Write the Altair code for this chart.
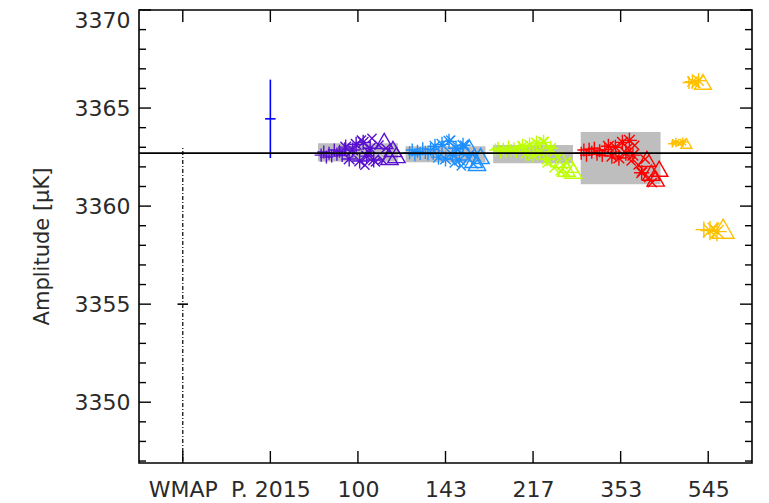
import json
import altair as alt
import pandas as pd

# ---------------- data ----------------
cat_labels = ["WMAP", "P. 2015", "100", "143", "217", "353", "545"]
cat_pos = [0, 1, 2, 3, 4, 5, 6]

y_major = [3350, 3355, 3360, 3365, 3370]
y_minor = [3347, 3348, 3349, 3351, 3352, 3353, 3354, 3356, 3357, 3358, 3359,
           3361, 3362, 3363, 3364, 3366, 3367, 3368, 3369]

dipole_ref = 3362.7

wmap_val, wmap_err = 3355.0, 8.0
p15_val, p15_err = 3364.45, 2.0

box_pos = [2, 3, 4, 5]
box_lo = [3362.28, 3362.23, 3362.18, 3361.12]
box_hi = [3363.20, 3363.05, 3363.11, 3363.78]

b100_off = [-0.42, -0.39, -0.36, -0.33, -0.30, -0.27, -0.24, -0.21, -0.18, -0.15,
            -0.14, -0.10, -0.06, -0.02, 0.02, 0.06, 0.10, 0.14, 0.18,
            0.04, 0.08, 0.12, 0.16, 0.20, 0.24, 0.28, 0.32,
            0.30, 0.36, 0.40, 0.44]
b100_val = [3362.60, 3362.76, 3362.50, 3362.70, 3362.55, 3362.86, 3362.65, 3362.80, 3362.58, 3362.92,
            3363.01, 3362.40, 3362.86, 3363.15, 3362.30, 3363.25, 3362.55, 3362.95, 3362.35,
            3363.37, 3362.09, 3362.76, 3363.45, 3362.25, 3363.11, 3362.35, 3362.95,
            3363.27, 3362.45, 3362.86, 3362.55]
b100_sym = ["plus"] * 10 + ["star"] * 9 + ["x"] * 8 + ["tri"] * 4

b143_off = [-0.41, -0.38, -0.35, -0.32, -0.29, -0.26, -0.23, -0.20, -0.17, -0.14,
            -0.12, -0.08, -0.04, 0.00, 0.04, 0.08, 0.12, 0.16, 0.20,
            0.06, 0.10, 0.14, 0.18, 0.22, 0.26, 0.29, 0.32,
            0.27, 0.32, 0.36, 0.40]
b143_val = [3362.72, 3362.86, 3362.62, 3362.80, 3362.68, 3362.92, 3362.74, 3362.66, 3362.88, 3362.70,
            3363.05, 3362.50, 3363.15, 3362.40, 3363.30, 3362.60, 3362.95, 3362.35, 3363.10,
            3363.37, 3362.20, 3362.90, 3362.05, 3363.10, 3362.45, 3362.70, 3362.15,
            3362.95, 3362.30, 3362.15, 3362.50]
b143_sym = b100_sym

b217_off = [-0.43, -0.40, -0.37, -0.34, -0.31, -0.28, -0.25, -0.22, -0.19, -0.16,
            -0.12, -0.08, -0.04, 0.00, 0.04, 0.08, 0.12, 0.16, 0.20,
            0.12, 0.16, 0.20, 0.24, 0.28, 0.31, 0.34, 0.38,
            0.33, 0.38, 0.42, 0.46]
b217_val = [3362.86, 3362.95, 3362.76, 3362.90, 3362.80, 3363.01, 3362.84, 3362.92, 3362.78, 3362.98,
            3363.05, 3362.70, 3363.11, 3362.60, 3363.21, 3362.75, 3363.25, 3362.40, 3362.95,
            3363.30, 3362.20, 3362.85, 3361.95, 3362.55, 3361.80, 3362.10, 3361.70,
            3362.30, 3361.85, 3362.05, 3361.75]
b217_sym = b100_sym

b353_off = [-0.45, -0.42, -0.39, -0.36, -0.33, -0.30, -0.27, -0.24, -0.21, -0.18,
            -0.14, -0.10, -0.06, -0.02, 0.02, 0.06, 0.10, 0.14, 0.24,
            0.08, 0.12, 0.16, 0.20, 0.24, 0.28, 0.32, 0.36,
            0.30, 0.35, 0.40, 0.44]
b353_val = [3362.70, 3362.86, 3362.60, 3362.90, 3362.75, 3362.95, 3362.65, 3362.82, 3362.58, 3362.88,
            3363.05, 3362.55, 3363.00, 3362.45, 3363.25, 3362.70, 3363.35, 3362.60, 3361.70,
            3362.95, 3362.30, 3363.10, 3362.10, 3361.75, 3362.40, 3361.45, 3361.20,
            3362.35, 3361.65, 3361.35, 3361.85]
b353_sym = b100_sym

b545_off = [-0.41, -0.37, -0.33, -0.29, -0.25,
            -0.22, -0.18, -0.14, -0.11, -0.06,
            -0.05, 0.02, 0.06, 0.10, 0.17]
b545_val = [3363.18, 3363.24, 3363.20, 3363.26, 3363.16,
            3366.30, 3366.35, 3366.25, 3366.40, 3366.28,
            3358.80, 3358.75, 3358.85, 3358.70, 3358.78]
b545_sym = ["plus", "star", "x", "star", "tri",
            "plus", "star", "x", "star", "tri",
            "plus", "star", "x", "star", "tri"]
b545_mask = ["A", "A", "A", "A", "A", "B", "B", "B", "B", "B", "C", "C", "C", "C", "C"]

band_names = ["100", "143", "217", "353", "545"]
band_colors = ["#5a10d0", "#1e8fff", "#bcff00", "#ff0000", "#ffc000"]

# ---------------- styling ----------------
PLUS = "M-1,0L1,0M0,-1L0,1"
STAR = "M-1,0L1,0M0,-1L0,1M-0.7,-0.7L0.7,0.7M-0.7,0.7L0.7,-0.7"
XSH = "M-0.75,-0.75L0.75,0.75M-0.75,0.75L0.75,-0.75"
TRI = "M0,-1L1,0.75L-1,0.75Z"
HBAR = "M-1,0L1,0"
base_size = {"plus": 170, "star": 230, "x": 150, "tri": 300}
mask_scale = {"A": 0.4, "B": 0.95, "C": 1.6, "all": 1.0}

rows = []
for name, pos, offs, vals, syms, masks in [
    ("100", 2, b100_off, b100_val, b100_sym, None),
    ("143", 3, b143_off, b143_val, b143_sym, None),
    ("217", 4, b217_off, b217_val, b217_sym, None),
    ("353", 5, b353_off, b353_val, b353_sym, None),
    ("545", 6, b545_off, b545_val, b545_sym, b545_mask),
]:
    for i, (o, v, s) in enumerate(zip(offs, vals, syms)):
        m = masks[i] if masks else "all"
        rows.append({"band": name, "x": pos + o, "y": v, "sym": s,
                     "sz": base_size[s] * mask_scale[m]})
pts = pd.DataFrame(rows)

HALF = 0.456
boxes = pd.DataFrame({"x0": [p - HALF for p in box_pos], "x1": [p + HALF for p in box_pos],
                      "lo": box_lo, "hi": box_hi})

W, H = 613, 453
xs = alt.Scale(domain=[-0.5, 6.5], nice=False, zero=False)
ys = alt.Scale(domain=[3346.9, 3370], nice=False, zero=False)

label_expr = json.dumps(cat_labels) + "[datum.value]"
x_axis = alt.Axis(values=cat_pos, labelExpr=label_expr, ticks=False, domain=False, grid=False,
                  labelPadding=16, labelFontSize=22, labelFlush=False, labelOverlap=False,
                  title="")
y_axis = alt.Axis(values=y_major, format="d", ticks=False, domain=False, grid=False,
                  labelPadding=9, labelFontSize=22, labelFlush=True, labelOverlap=False,
                  title="Amplitude [μK]", titleFontSize=21, titleFontWeight="normal",
                  titleX=-97, titleY=236, titleAngle=-90, titleAlign="center",
                  titleBaseline="middle")


def X(f):
    return alt.X(f, scale=xs, axis=x_axis)


def Y(f):
    return alt.Y(f, scale=ys, axis=y_axis)


box_layer = alt.Chart(boxes).mark_rect(color="#bebebe").encode(
    x=X("x0:Q"), x2="x1:Q", y=Y("lo:Q"), y2="hi:Q")

pt_layer = alt.Chart(pts).mark_point(filled=False, strokeWidth=1.4, opacity=1, clip=True).encode(
    x=X("x:Q"), y=Y("y:Q"),
    color=alt.Color("band:N", scale=alt.Scale(domain=band_names, range=band_colors), legend=None),
    shape=alt.Shape("sym:N", scale=alt.Scale(domain=["plus", "star", "x", "tri"],
                                             range=[PLUS, STAR, XSH, TRI]), legend=None),
    size=alt.Size("sz:Q", scale=None, legend=None))

wmap_df = pd.DataFrame({"x": [0], "lo": [wmap_val - wmap_err], "hi": [wmap_val + wmap_err],
                        "v": [wmap_val]})
p15_df = pd.DataFrame({"x": [1], "lo": [p15_val - p15_err], "hi": [p15_val + p15_err],
                       "v": [p15_val]})

wmap_bar = alt.Chart(wmap_df).mark_rule(
    color="#000", strokeWidth=1.2, strokeDash=[4, 2, 1, 2], clip=True).encode(
    x=X("x:Q"), y=Y("lo:Q"), y2="hi:Q")
wmap_c = alt.Chart(wmap_df).mark_point(shape=HBAR, size=110, filled=False, strokeWidth=1.6,
                                       opacity=1, color="#000").encode(x=X("x:Q"), y=Y("v:Q"))
p15_bar = alt.Chart(p15_df).mark_rule(color="#0000ff", strokeWidth=1.6, clip=True).encode(
    x=X("x:Q"), y=Y("lo:Q"), y2="hi:Q")
p15_c = alt.Chart(p15_df).mark_point(shape=HBAR, size=110, filled=False, strokeWidth=1.6,
                                     opacity=1, color="#0000ff").encode(x=X("x:Q"), y=Y("v:Q"))

ref_line = alt.Chart(pd.DataFrame({"y": [dipole_ref]})).mark_rule(color="#000", strokeWidth=1.8).encode(
    y=Y("y:Q"), x=alt.value(0), x2=alt.value(W))

ymaj = pd.DataFrame({"v": y_major})
ymin = pd.DataFrame({"v": y_minor})
xt = pd.DataFrame({"i": cat_pos})


def ytick(df, x1, x2):
    return alt.Chart(df).mark_rule(color="#000", strokeWidth=1.4).encode(
        y=Y("v:Q"), x=alt.value(x1), x2=alt.value(x2))


def xtick(y1, y2):
    return alt.Chart(xt).mark_rule(color="#000", strokeWidth=1.4).encode(
        x=X("i:Q"), y=alt.value(y1), y2=alt.value(y2))


ticks = [ytick(ymaj, 0, 12), ytick(ymin, 0, 7), ytick(ymaj, W, W - 12), ytick(ymin, W, W - 7),
         xtick(H, H - 12), xtick(0, 12)]

chart = alt.layer(box_layer, pt_layer, wmap_bar, p15_bar, wmap_c, p15_c, ref_line, *ticks).properties(
    width=W, height=H,
    padding={"left": 139, "top": 10, "right": 17, "bottom": 40},
    autosize=alt.AutoSizeParams(type="none"),
    background="white",
).configure_view(stroke="#000", strokeWidth=1.6).configure_axis(
    labelFont="DejaVu Sans", titleFont="DejaVu Sans", labelColor="#2a2a2a", titleColor="#2a2a2a")

chart.save("out.html", embed_options={"renderer": "svg", "actions": False})
